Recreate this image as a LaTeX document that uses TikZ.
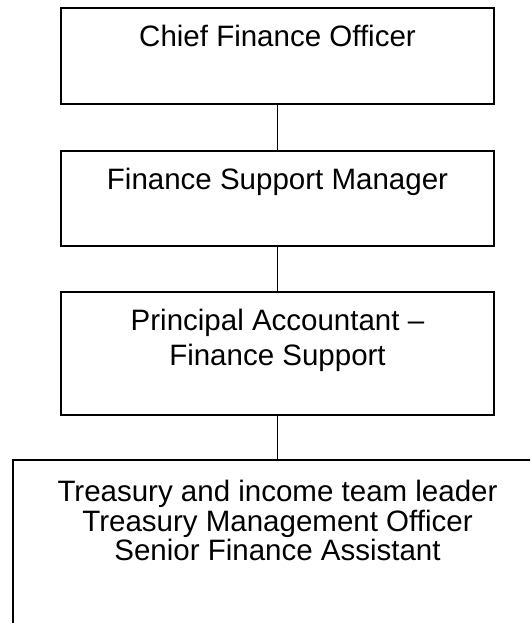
\documentclass[tikz,border=0pt]{standalone}
\usepackage{fontspec}
\setmainfont{Liberation Sans}
\usetikzlibrary{positioning}

\begin{document}
\begin{tikzpicture}
[x=1pt, y=1pt, node distance=46pt,
post/.style={draw, line width=1.6pt, outer sep=0pt, inner sep=0pt, minimum width=433pt},
title/.style={anchor=north, inner sep=0pt, align=center, font=\fontsize{29.5}{35}\selectfont},
link/.style={line width=1.6pt}]
%%%%%%%%%%
\clip (0,0) rectangle (530,623);

%% boxes
\node[post, minimum height=96pt] (cfo) at (277.5,567) {};
\node[post, minimum height=95pt, below=47pt of cfo] (fsm) {};
\node[post, minimum height=123pt, below=46pt of fsm] (pa) {};
\node[post, minimum width=529pt, minimum height=220pt, anchor=north, below=45pt of pa] (team) {};

%% texts
\node[title] (cfo text) at ([yshift=-17pt]cfo.north) {Chief Finance Officer};
\node[title] (fsm text) at ([yshift=-17pt]fsm.north) {Finance Support Manager};
\node[title] (pa text) at ([yshift=-17pt]pa.north) {Principal Accountant --\\Finance Support};
\node[title, font=\fontsize{29.5}{29.5}\selectfont] (team text) at ([yshift=-20pt]team.north)
  {Treasury and income team leader\\Treasury Management Officer\\Senior Finance Assistant};

%% links
\draw[link] (cfo.south) -- (fsm.north);
\draw[link] (fsm.south) -- (pa.north);
\draw[link] (pa.south) -- (team.north);
\end{tikzpicture}
\end{document}
